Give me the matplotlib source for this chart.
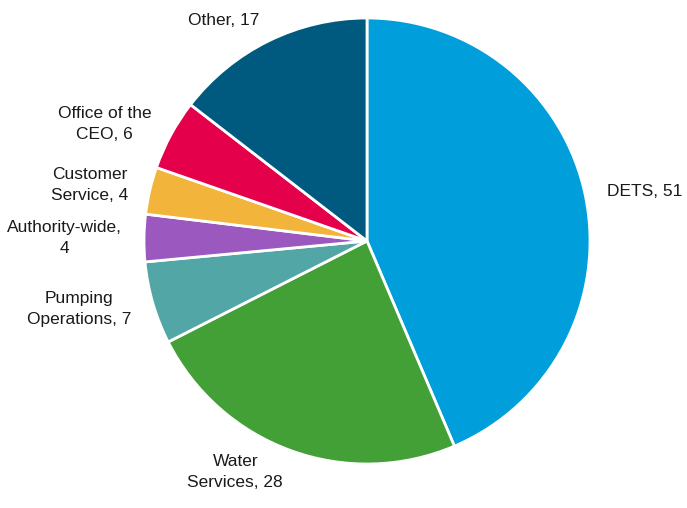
import matplotlib
matplotlib.use("Agg")
import matplotlib.pyplot as plt

categories = ["DETS", "Water\nServices", "Pumping\nOperations", "Authority-wide,\n", "Customer\nService", "Office of the\nCEO", "Other"]
values = [51, 28, 7, 4, 4, 6, 17]
colors = ["#009EDB", "#43A036", "#52A6A6", "#9B59C0", "#F2B43A", "#E4004B", "#005A80"]

labels = []
for c, v in zip(categories, values):
    if c.endswith("\n"):
        labels.append(f"{c}{v}")
    else:
        labels.append(f"{c}, {v}")

plt.rcParams['font.family'] = ['Liberation Sans', 'DejaVu Sans']
fig = plt.figure(figsize=(6.87, 5.08), dpi=100)
cx, cy, r = 367, 241, 223
W, H = 687, 508
ax = fig.add_axes([(cx - r) / W, (H - cy - r) / H, 2 * r / W, 2 * r / H])
wedges, texts = ax.pie(values, labels=labels, colors=colors, startangle=90, counterclock=False,
                       labeldistance=1.1, radius=1,
                       wedgeprops=dict(edgecolor="white", linewidth=2),
                       textprops=dict(fontsize=12.5, color="#1a1a1a", multialignment="center",
                                      linespacing=1.5))
ax.set_xlim(-1, 1)
ax.set_ylim(-1, 1)
ax.set_aspect("auto")
ax.axis("off")
fig.savefig("out.png", dpi=100)
